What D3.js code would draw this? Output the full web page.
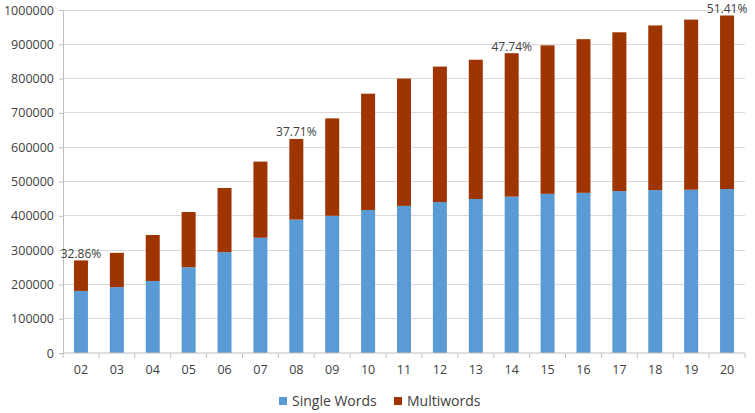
<!DOCTYPE html>
<html><head><meta charset="utf-8">
<script src="https://cdn.jsdelivr.net/npm/d3@7"></script>
<style>body{margin:0;background:#fff}svg{display:block;font-family:"Open Sans",sans-serif}</style>
</head><body><svg id="c" width="755" height="413"></svg>
<script>
const categories = ["02","03","04","05","06","07","08","09","10","11","12","13","14","15","16","17","18","19","20"];
const singleWords = [181000,192000,210000,250000,294000,336000,389000,400000,417000,429000,440000,449000,456000,464000,467000,472000,475000,476000,478000];
const multiwords  = [89000,100000,134000,161000,187000,222000,235000,284000,339000,371000,395000,406000,418000,433000,448000,463000,480000,496000,506000];
const pctLabels = {"02":"32.86%","08":"37.71%","14":"47.74%","20":"51.41%"};
const yTicks = [0,100000,200000,300000,400000,500000,600000,700000,800000,900000,1000000];
const seriesNames = ["Single Words","Multiwords"];
const colors = ["#5B9BD5","#9E3400"];

const svg = d3.select("#c");
const m = {l:63, r:745, t:10, b:353};
const x = d3.scaleBand().domain(categories).range([m.l, m.r]).paddingInner(0.61).paddingOuter(0.305);
const y = d3.scaleLinear().domain([0,1000000]).range([m.b, m.t]);

// gridlines
svg.append("g").selectAll("line").data(yTicks.slice(1)).join("line")
  .attr("x1", m.l).attr("x2", m.r).attr("y1", d=>y(d)).attr("y2", d=>y(d))
  .attr("stroke","#D9D9D9").attr("stroke-width",1).attr("shape-rendering","crispEdges");

const data = categories.map((c,i)=>({cat:c, "Single Words":singleWords[i], "Multiwords":multiwords[i]}));
const stack = d3.stack().keys(seriesNames)(data);
svg.append("g").selectAll("g").data(stack).join("g").attr("fill",(d,i)=>colors[i])
  .selectAll("rect").data(d=>d).join("rect")
  .attr("x", d=>x(d.data.cat)).attr("width", x.bandwidth())
  .attr("y", d=>y(d[1])).attr("height", d=>y(d[0])-y(d[1]));

// y axis
const ya = svg.append("g").attr("transform",`translate(${m.l},0)`)
  .call(d3.axisLeft(y).tickValues(yTicks).tickFormat(d3.format("d")).tickSize(4).tickPadding(5));
ya.select(".domain").attr("stroke","#BFBFBF");
ya.selectAll(".tick line").attr("stroke","#BFBFBF");
ya.selectAll("text").attr("font-size","12.5px").attr("fill","#404040").attr("font-family","Open Sans");

// x axis
const xa = svg.append("g").attr("transform",`translate(0,${m.b})`)
  .call(d3.axisBottom(x).tickSize(0).tickPadding(12));
xa.select(".domain").attr("stroke","#BFBFBF").attr("d",`M${m.l},0H${m.r}`);
xa.selectAll("text").attr("font-size","12.5px").attr("fill","#404040").attr("font-family","Open Sans");
const step = x.step();
svg.append("g").selectAll("line").data(d3.range(categories.length+1)).join("line")
  .attr("x1", i=>m.l + i*step).attr("x2", i=>m.l + i*step)
  .attr("y1", m.b).attr("y2", m.b+5).attr("stroke","#BFBFBF");

// pct labels
svg.append("g").selectAll("text").data(data.filter(d=>pctLabels[d.cat])).join("text")
  .attr("x", d=>x(d.cat)+x.bandwidth()/2)
  .attr("y", d=>y(d["Single Words"]+d["Multiwords"])-2.5)
  .attr("text-anchor","middle").attr("font-size","12px").attr("fill","#404040")
  .text(d=>pctLabels[d.cat]);

// legend
const lg = svg.append("g");
const lx = [279, 394];
seriesNames.forEach((n,i)=>{
  lg.append("rect").attr("x",lx[i]).attr("y",397).attr("width",8).attr("height",8).attr("fill",colors[i]);
  lg.append("text").attr("x",lx[i]+13).attr("y",406).attr("font-size","14px").attr("fill","#404040").text(n);
});
</script></body></html>
